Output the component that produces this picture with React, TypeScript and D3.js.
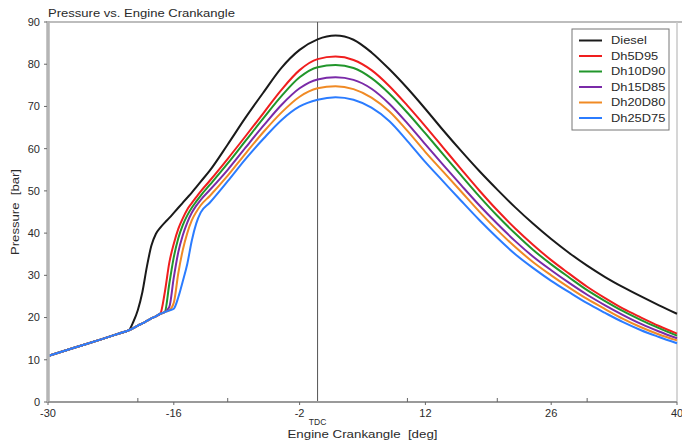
import React from "react";
import * as d3 from "d3";

const crankAngle = [-30, -27, -24, -22, -21, -20.5, -20, -19.5, -19, -18.5, -18, -17.5, -17, -16.5, -16, -15.5, -15, -14.5, -14, -13.5, -13, -12, -10, -8, -6, -4, -2, 0, 2, 4, 6, 8, 10, 12, 14, 16, 18, 20, 22, 24, 26, 28, 30, 32, 34, 36, 38, 40];

const diesel = [10.9, 12.9, 14.9, 16.3, 17.0, 19.0, 21.8, 26.0, 32.0, 37.0, 39.8, 41.3, 42.5, 43.6, 44.8, 46.0, 47.2, 48.4, 49.6, 50.9, 52.2, 54.8, 61.0, 67.4, 73.4, 79.2, 83.4, 85.9, 86.8, 85.8, 82.8, 78.8, 74.3, 69.4, 64.3, 59.4, 54.7, 50.3, 46.1, 42.2, 38.6, 35.3, 32.3, 29.6, 27.2, 25.0, 22.9, 20.9];
const dh5d95 = [10.9, 12.9, 14.9, 16.3, 17.0, 17.5, 18.1, 18.6, 19.2, 19.8, 20.3, 20.9, 26.0, 33.0, 37.5, 41.0, 43.5, 45.6, 47.1, 48.5, 49.9, 52.4, 57.6, 63.0, 68.5, 74.0, 78.6, 81.2, 81.8, 81.0, 78.6, 74.8, 70.2, 65.3, 60.2, 55.1, 50.1, 45.4, 41.1, 37.2, 33.6, 30.4, 27.3, 24.6, 22.1, 20.0, 18.0, 16.2];
const dh10d90 = [10.9, 12.9, 14.9, 16.3, 17.0, 17.5, 18.1, 18.6, 19.2, 19.8, 20.3, 20.9, 21.3, 28.0, 34.3, 38.8, 41.9, 44.2, 46.0, 47.5, 48.9, 51.4, 56.5, 61.9, 67.3, 72.5, 76.9, 79.3, 79.8, 79.1, 76.7, 73.0, 68.5, 63.6, 58.6, 53.6, 48.7, 44.1, 39.9, 36.0, 32.6, 29.5, 26.5, 23.9, 21.5, 19.4, 17.5, 15.7];
const dh15d85 = [10.9, 12.9, 14.9, 16.3, 17.0, 17.5, 18.1, 18.6, 19.2, 19.8, 20.3, 20.9, 21.3, 22.5, 29.5, 35.5, 39.5, 42.5, 44.8, 46.5, 47.9, 50.2, 55.0, 60.3, 65.5, 70.4, 74.3, 76.4, 76.9, 76.3, 74.2, 70.6, 66.0, 61.0, 56.1, 51.3, 46.6, 42.2, 38.1, 34.4, 31.2, 28.2, 25.4, 22.9, 20.6, 18.5, 16.7, 15.1];
const dh20d80 = [10.9, 12.9, 14.9, 16.3, 17.0, 17.5, 18.1, 18.6, 19.2, 19.8, 20.3, 20.9, 21.3, 21.7, 23.5, 30.5, 36.0, 40.0, 43.0, 45.0, 46.6, 48.8, 53.6, 58.9, 64.0, 68.6, 72.3, 74.3, 74.8, 74.1, 72.1, 68.8, 64.2, 59.2, 54.5, 49.8, 45.1, 40.7, 36.7, 33.1, 30.0, 27.1, 24.4, 22.0, 19.7, 17.7, 16.0, 14.6];
const dh25d75 = [10.9, 12.9, 14.9, 16.3, 17.0, 17.5, 18.1, 18.6, 19.2, 19.8, 20.3, 20.9, 21.3, 21.7, 22.1, 24.8, 28.6, 32.7, 38.2, 42.3, 44.9, 47.2, 52.3, 57.6, 62.4, 66.8, 70.0, 71.6, 72.2, 71.6, 69.7, 66.5, 61.8, 56.8, 52.2, 47.6, 43.1, 38.9, 35.0, 31.7, 28.7, 26.0, 23.4, 21.1, 18.9, 17.0, 15.4, 13.9];

const seriesNames = ["Diesel", "Dh5D95", "Dh10D90", "Dh15D85", "Dh20D80", "Dh25D75"];
const seriesValues = [diesel, dh5d95, dh10d90, dh15d85, dh20d80, dh25d75];
const seriesColors = ["#1a1a1a", "#f01e1e", "#21962b", "#7a2aa8", "#f08a24", "#2b7cff"];

const xTickValues = [-30, -16, -2, 12, 26, 40];
const xMinorTicks = [-20, -10, 10, 20, 30];
const yTickValues = [0, 10, 20, 30, 40, 50, 60, 70, 80, 90];

const W = 682;
const H = 441;
const left = 48;
const right = 677;
const top = 22;
const bottom = 402;
const font = "Arial, 'Liberation Sans', sans-serif";
const txt = "#2a2a2a";

export default function App() {
  const x = d3.scaleLinear().domain([-30, 40]).range([left, right]);
  const y = d3.scaleLinear().domain([0, 90]).range([bottom, top]);
  const line = d3
    .line<[number, number]>()
    .x((d) => x(d[0]))
    .y((d) => y(d[1]))
    .curve(d3.curveMonotoneX);

  return (
    <svg width={W} height={H} style={{ position: "absolute", left: 0, top: 0, background: "#fff" }} fontFamily={font}>
      <rect x={0} y={0} width={W} height={H} fill="#fff" />
      {/* title */}
      <text x={left} y={17} fontSize={11.5} fill={txt} textLength={187} lengthAdjust="spacingAndGlyphs">Pressure vs. Engine Crankangle</text>
      {/* frame */}
      <line x1={left} x2={W} y1={top} y2={top} stroke="#bdbdbd" strokeWidth={2} />
      <line x1={right} x2={right} y1={top} y2={bottom} stroke="#c8c8c8" strokeWidth={1.5} />
      {/* TDC line */}
      <line x1={x(0)} x2={x(0)} y1={top} y2={bottom} stroke="#555" strokeWidth={1} />
      {/* curves */}
      {seriesValues.map((vals, i) => (
        <path
          key={seriesNames[i]}
          d={line(crankAngle.map((a, j) => [a, vals[j]] as [number, number])) || ""}
          fill="none"
          stroke={seriesColors[i]}
          strokeWidth={2}
        />
      ))}
      {/* axes */}
      <line x1={left} x2={left} y1={top - 1} y2={bottom + 1} stroke="#b5b5b5" strokeWidth={3.5} />
      <line x1={left} x2={right} y1={bottom} y2={bottom} stroke="#9a9a9a" strokeWidth={2} />
      {yTickValues.map((v) => (
        <g key={"y" + v}>
          <line x1={left - 4} x2={left - 1} y1={y(v)} y2={y(v)} stroke="#666" strokeWidth={1} />
          <text x={40} y={y(v)} dy="0.35em" textAnchor="end" fontSize={11} fill={txt}>{v}</text>
        </g>
      ))}
      {xTickValues.map((v) => (
        <g key={"x" + v}>
          <line x1={x(v)} x2={x(v)} y1={bottom} y2={bottom + 3} stroke="#666" strokeWidth={1} />
          <text x={x(v)} y={bottom + 15} textAnchor="middle" fontSize={11} fill={txt}>{v}</text>
        </g>
      ))}
      {xMinorTicks.map((v) => (
        <line key={"m" + v} x1={x(v)} x2={x(v)} y1={bottom - 4} y2={bottom} stroke="#666" strokeWidth={1} />
      ))}
      <text x={x(0)} y={bottom + 23} textAnchor="middle" fontSize={8.5} fill={txt}>TDC</text>
      <text x={(left + right) / 2} y={bottom + 36} textAnchor="middle" fontSize={11} fill={txt} textLength={150} lengthAdjust="spacingAndGlyphs">{"Engine Crankangle\u00a0 [deg]"}</text>
      <text transform={`translate(19, ${(top + bottom) / 2}) rotate(-90)`} textAnchor="middle" fontSize={11} fill={txt} textLength={86} lengthAdjust="spacingAndGlyphs">{"Pressure\u00a0 [bar]"}</text>
      {/* legend */}
      <rect x={572} y={29} width={97} height={101} fill="#fff" stroke="#777" strokeWidth={1} />
      {seriesNames.map((n, i) => (
        <g key={"l" + n}>
          <line x1={579} x2={602} y1={40.5 + i * 15.5} y2={40.5 + i * 15.5} stroke={seriesColors[i]} strokeWidth={2} />
          <text transform={`translate(611, ${40.5 + i * 15.5}) scale(1.17, 1)`} dy="0.35em" fontSize={11} fill={txt}>{n}</text>
        </g>
      ))}
    </svg>
  );
}
